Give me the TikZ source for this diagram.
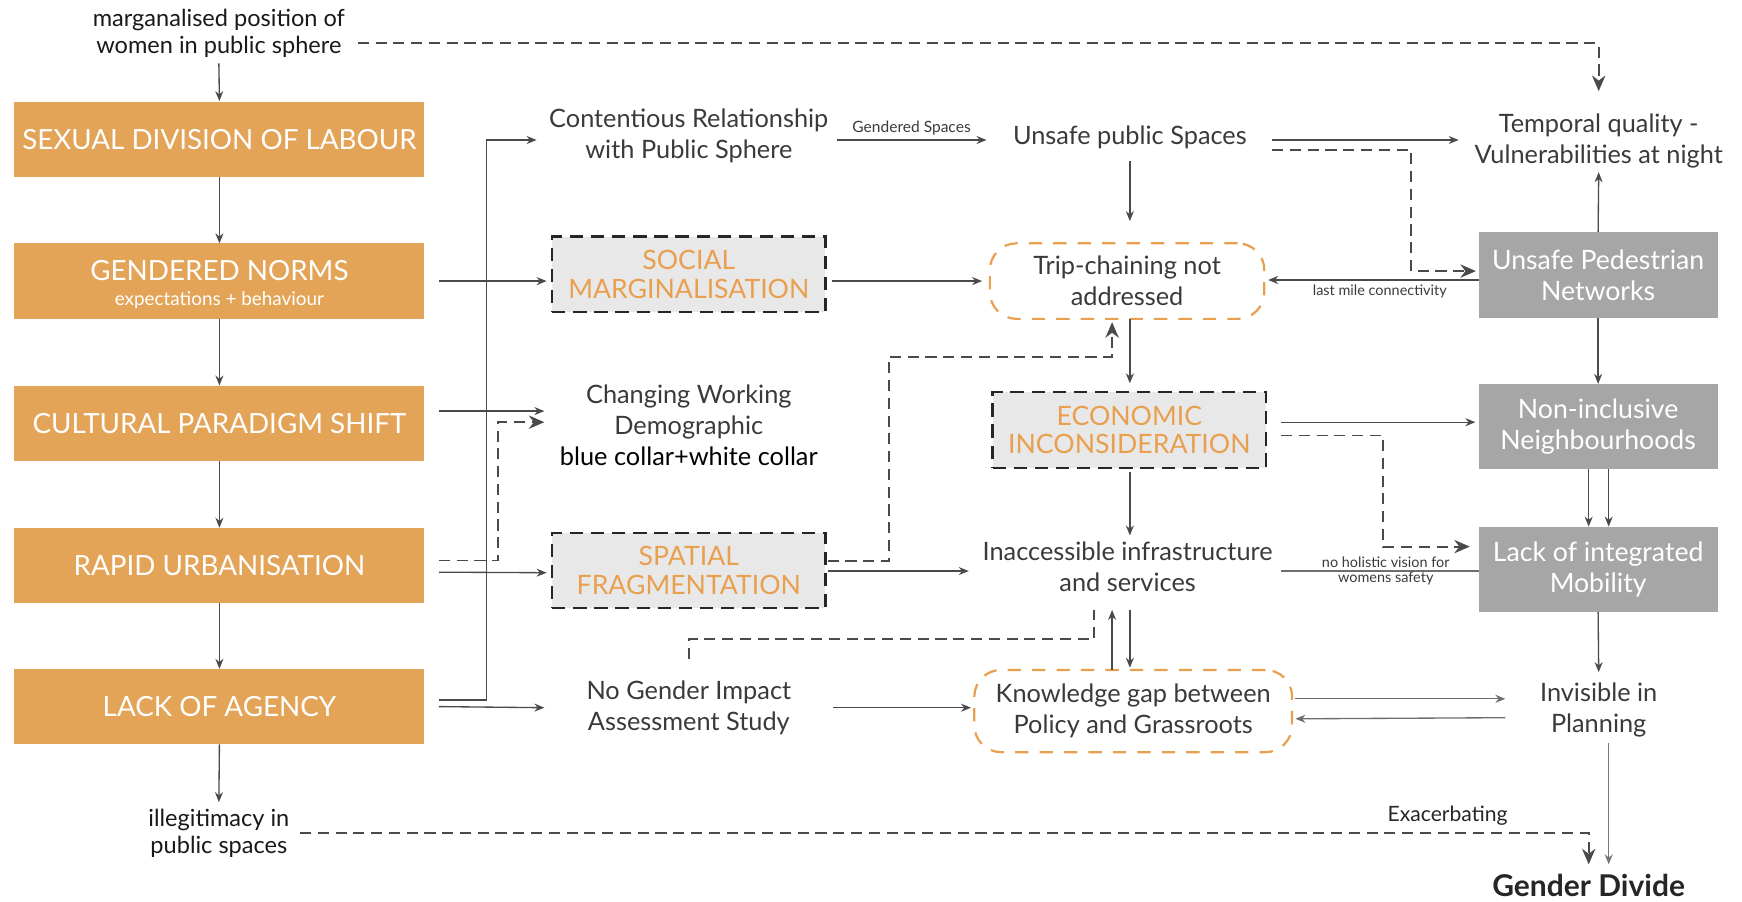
\documentclass[tikz,border=0pt]{standalone}
\usepackage{fontspec}
\setmainfont{Lato}
\usetikzlibrary{arrows.meta,calc}
\definecolor{orangebox}{HTML}{E3A458}
\definecolor{orangetxt}{HTML}{E8A04F}
\definecolor{graybox}{HTML}{A6A6A6}
\definecolor{dashfill}{HTML}{E8E8E8}
\definecolor{linec}{HTML}{4A4A4A}
\definecolor{txt}{HTML}{3A3A3A}
\tikzset{
  obox/.style={fill=orangebox, minimum width=184.5pt, minimum height=34pt, inner sep=0pt, text=white, align=center, font=\fontsize{12.5}{14}\selectfont},
  gbox/.style={fill=graybox, minimum width=107.5pt, minimum height=38.5pt, inner sep=0pt, text=white, align=center, font=\fontsize{12}{14}\selectfont},
  dbox/.style={fill=dashfill, draw=black!85, line width=1.1pt, dash pattern=on 6pt off 3.5pt, minimum width=123pt, minimum height=34pt, inner sep=0pt, text=orangetxt, align=center, font=\fontsize{12}{13}\selectfont},
  rbox/.style={draw=orangetxt, line width=1pt, dash pattern=on 6pt off 5pt, rounded corners=12pt, minimum height=34pt, inner sep=0pt, text=txt, align=center, font=\fontsize{11.4}{14}\selectfont},
  txtn/.style={text=txt, align=center, inner sep=0pt, font=\fontsize{11.4}{14}\selectfont},
  topn/.style={text=black!90, align=center, inner sep=0pt, font=\fontsize{10.6}{12}\selectfont},
  small/.style={text=txt, align=center, inner sep=1pt, font=\fontsize{6.5}{7}\selectfont},
  arr/.style={draw=linec, line width=0.6pt, -{Stealth[length=4.5pt,width=3.6pt]}},
  darr/.style={draw=linec, line width=0.8pt, dash pattern=on 5pt off 3pt, -{Stealth[length=7pt,width=6pt]}},
  dline/.style={draw=linec, line width=0.8pt, dash pattern=on 5pt off 3pt},
  pline/.style={draw=linec!80, line width=0.6pt},
}
\begin{document}
\begin{tikzpicture}[x=0.5pt,y=-0.5pt]
\useasboundingbox (0,0) rectangle (1568,811);
% left column
\node[topn] (topt) at (197,30) {marganalised position of\\women in public sphere};
\node[obox] (sexual) at (197.5,125.5) {SEXUAL DIVISION OF LABOUR};
\node[obox] (gendered) at (197.5,253) {\begin{tabular}{@{}c@{}}\rule{0pt}{15pt}GENDERED NORMS\\[-3pt]{\fontsize{8.5}{9}\selectfont expectations + behaviour}\end{tabular}};
\node[obox] (cultural) at (197.5,381) {CULTURAL PARADIGM SHIFT};
\node[obox] (rapid) at (197.5,509) {RAPID URBANISATION};
\node[obox] (lack) at (197.5,636) {LACK OF AGENCY};
\node[topn] (illeg) at (197,750) {illegitimacy in\\public spaces};
% middle column
\node[txtn] (contentious) at (620,122) {Contentious Relationship\\with Public Sphere};
\node[dbox] (social) at (620,247) {SOCIAL\\MARGINALISATION};
\node[txtn] (changing) at (620,383) {Changing Working\\Demographic\\{\color{black}blue collar+white collar}};
\node[dbox] (spatial) at (620,513.5) {SPATIAL\\FRAGMENTATION};
\node[txtn] (nogender) at (620,637) {No Gender Impact\\Assessment Study};
% centre column
\node[txtn] (unsafepub) at (1017,124) {Unsafe public Spaces};
\node[rbox, minimum width=123.5pt] (trip) at (1014.5,253) {Trip-chaining not\\addressed};
\node[dbox] (economic) at (1016.5,387) {ECONOMIC\\INCONSIDERATION};
\node[txtn] (inacc) at (1015,510) {Inaccessible infrastructure\\and services};
\node[rbox, minimum width=143pt, minimum height=37pt] (knowledge) at (1020,640) {Knowledge gap between\\Policy and Grassroots};
% right column
\node[txtn] (temporal) at (1439,127) {Temporal quality -\\Vulnerabilities at night};
\node[gbox] (unsafeped) at (1438.5,247.5) {Unsafe Pedestrian\\Networks};
\node[gbox] (noninc) at (1438.5,384) {Non-inclusive\\Neighbourhoods};
\node[gbox] (lackint) at (1438.5,512.5) {Lack of integrated\\Mobility};
\node[txtn] (invisible) at (1439,639) {Invisible in\\Planning};
\node[text=black!85, inner sep=0pt, font=\fontsize{13.5}{14}\selectfont\bfseries] (divide) at (1430,797) {Gender Divide};
\node[text=black!85, inner sep=0pt, font=\fontsize{9.5}{10}\selectfont] (exac) at (1303,734) {Exacerbating};

% left column arrows
\draw[arr] ($(topt)+(0,27)$) -- ($(sexual)+(0,-34.5)$);
\draw[arr] ($(sexual)+(0,34)$) -- ($(gendered)+(0,-34)$);
\draw[arr] ($(gendered)+(0,34)$) -- ($(cultural)+(0,-34)$);
\draw[arr] ($(cultural)+(0,34)$) -- ($(rapid)+(0,-34)$);
\draw[arr] ($(rapid)+(0,34)$) -- ($(lack)+(0,-34)$);
\draw[arr] ($(lack)+(0,34)$) -- ($(illeg)+(0,-28)$);
% long dashed
\draw[darr] ($(topt)+(125,9)$) -| ($(temporal)+(0,-45)$);
\draw[darr] ($(illeg)+(73,0)$) -| ($(divide)+(0,-19)$);
\draw[arr, draw=linec!75] ($(invisible)+(9,30)$) -- ($(divide)+(18,-19)$);
% from left boxes
\draw[arr] ($(lack)+(197.5,-6)$) -- ($(lack)+(240.5,-6)$) |- ($(contentious)+(-137,4)$);
\draw[arr] ($(lack)+(197.5,0)$) -- ($(nogender)+(-130,0)$);
\draw[arr] ($(gendered)+(197.5,0)$) -- ($(social)+(-128,6)$);
\draw[arr] ($(cultural)+(197.5,-11)$) -- ($(changing)+(-130,-13)$);
\draw[darr] ($(rapid)+(197.5,-4.5)$) -- ($(rapid)+(250.5,-4.5)$) |- ($(changing)+(-130,-3)$);
\draw[arr] ($(rapid)+(197.5,6)$) -- ($(spatial)+(-128,2)$);
% middle to centre
\draw[arr] ($(contentious)+(133,4)$) -- node[small, above=1pt, font=\fontsize{7}{8}\selectfont]{Gendered Spaces} ($(unsafepub)+(-129,2)$);
\draw[arr] ($(social)+(129,6)$) -- ($(trip)+(-130.5,0)$);
\draw[darr] ($(spatial)+(125,-8.5)$) -- ($(spatial)+(180,-8.5)$) |- ($(trip)+(-13.5,68)$) -- ($(trip)+(-13.5,37)$);
\draw[arr] ($(spatial)+(125,0.5)$) -- ($(inacc)+(-143,4)$);
\draw[arr] ($(nogender)+(130,0)$) -- ($(knowledge)+(-146,-3)$);
\draw[dline] ($(nogender)+(0,-44)$) |- ($(inacc)+(-30,65)$) -- ($(inacc)+(-30,39)$);
% centre column
\draw[arr] ($(unsafepub)+(0,21)$) -- ($(trip)+(2.5,-54)$);
\draw[arr] ($(trip)+(2.5,34)$) -- ($(economic)+(0.5,-42)$);
\draw[arr] ($(economic)+(0.5,38)$) -- ($(inacc)+(2,-28)$);
\draw[arr] ($(knowledge)+(-19,-37)$) -- ($(inacc)+(-14,39)$);
\draw[arr] ($(inacc)+(2,39)$) -- ($(knowledge)+(-3,-39)$);
% centre to right
\draw[arr] ($(unsafepub)+(128,2)$) -- ($(temporal)+(-126,-1)$);
\draw[darr] ($(unsafepub)+(128,11)$) -- ($(unsafepub)+(253,11)$) |- ($(unsafeped)+(-110,-3.5)$);
\draw[arr] ($(unsafeped)+(-107.5,4.5)$) -- node[small, below=1pt, pos=0.47]{last mile connectivity} ($(trip)+(127,-1)$);
\draw[arr] ($(economic)+(136.5,-7)$) -- ($(noninc)+(-110.5,-4)$);
\draw[darr] ($(economic)+(136.5,5)$) -- ($(economic)+(228.5,5)$) |- ($(lackint)+(-115.5,-20.5)$);
\draw[pline] ($(inacc)+(138,4)$) -- node[small, pos=0.53, inner sep=0pt]{no holistic vision for\\womens safety} ($(lackint)+(-107.5,1.5)$);
\draw[arr, draw=linec!80] ($(knowledge)+(146,-11)$) -- ($(invisible)+(-84,-10)$);
\draw[arr, draw=linec!80] ($(invisible)+(-84,7)$) -- ($(knowledge)+(146,7)$);
% right column
\draw[arr] ($(unsafeped)+(0,-38.5)$) -- ($(temporal)+(0,28)$);
\draw[arr] ($(unsafeped)+(0,38.5)$) -- ($(noninc)+(0,-38.5)$);
\draw[arr] ($(noninc)+(-8.5,38)$) -- ($(lackint)+(-8.5,-38.5)$);
\draw[arr] ($(noninc)+(9.5,38)$) -- ($(lackint)+(9.5,-38.5)$);
\draw[arr] ($(lackint)+(0,38.5)$) -- ($(invisible)+(0,-34)$);
\end{tikzpicture}
\end{document}
